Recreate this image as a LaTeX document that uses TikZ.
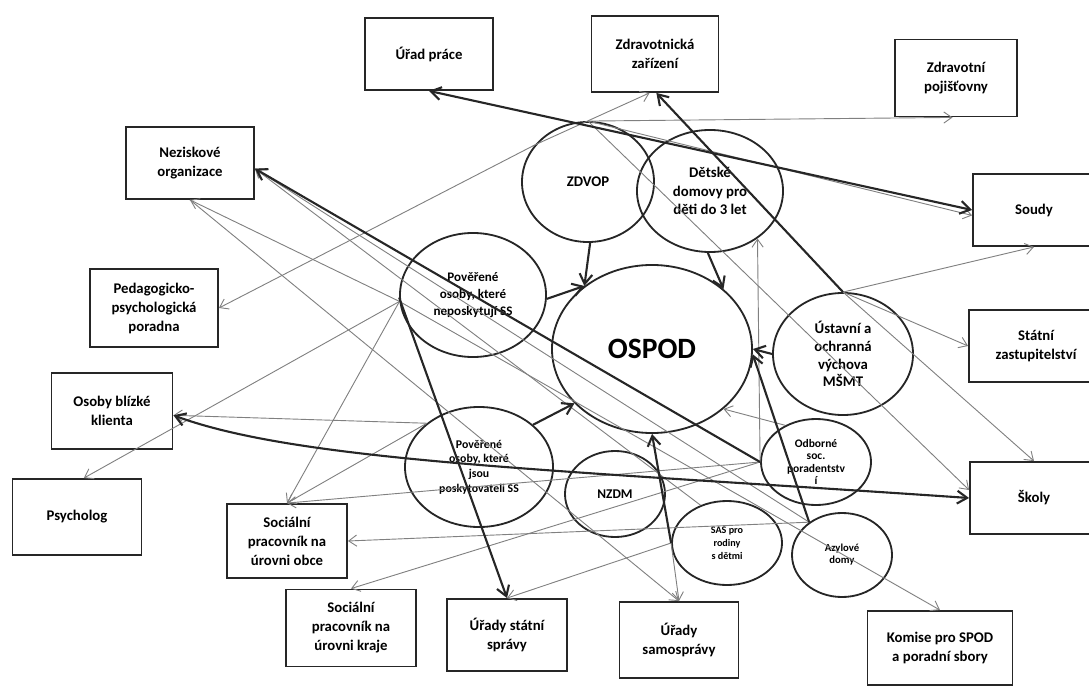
\documentclass[tikz,border=0pt]{standalone}
\usepackage{fontspec}
\setmainfont{Carlito}
\usetikzlibrary{shapes.geometric, arrows.meta}

\newcommand{\boxfont}{\fontsize{10.5}{13.5}\selectfont\bfseries}

\begin{document}
\begin{tikzpicture}[x=0.025cm, y=-0.025cm,
	box/.style={rectangle, draw=black!85, line width=1.3pt, align=center, inner sep=1pt, font=\boxfont},
	oval/.style={ellipse, draw=black!85, line width=1.3pt, align=center, inner sep=0pt, font=\boxfont},
	link/.style={draw=black!85, line width=1.5pt, -{Straight Barb[length=2.5mm, width=3.2mm]}},
	linkboth/.style={draw=black!85, line width=1.5pt, {Straight Barb[length=2.5mm, width=3.2mm]}-{Straight Barb[length=2.5mm, width=3.2mm]}},
	rel/.style={draw=black!50, line width=0.65pt, -{Straight Barb[length=2mm, width=2.8mm]}}]

	\useasboundingbox (0, 0) rectangle (1089, 688);
	\clip (0, 0) rectangle (1089, 688);

	% boxes round the edge
	\node[box, minimum width=3.2cm, minimum height=1.8cm] (urad) at (429, 54) {Úřad práce};
	\node[box, minimum width=3.175cm, minimum height=1.9cm] (zdrav) at (655, 54) {Zdravotnická\\zařízení};
	\node[box, minimum width=3.05cm, minimum height=1.925cm] (pojist) at (956, 78) {Zdravotní\\pojišťovny};
	\node[box, minimum width=3.2cm, minimum height=1.8cm] (nezisk) at (190, 163) {Neziskové\\organizace};
	\node[box, minimum width=3.05cm, minimum height=1.8cm] (soudy) at (1034, 210) {Soudy};
	\node[box, minimum width=3.2cm, minimum height=1.95cm] (pedag) at (154, 308) {Pedagogicko-\\psychologická\\poradna};
	\node[box, minimum width=3.35cm, minimum height=1.8cm] (statni) at (1036, 346) {Státní\\zastupitelství};
	\node[box, minimum width=3.025cm, minimum height=1.9cm] (osoby) at (112, 411) {Osoby blízké\\klienta};
	\node[box, minimum width=3.225cm, minimum height=1.9cm] (psych) at (77, 517) {Psycholog};
	\node[box, minimum width=3.2cm, minimum height=1.8cm] (skoly) at (1034, 498) {Školy};
	\node[box, minimum width=3.0cm, minimum height=1.85cm] (socobce) at (287, 541) {Sociální\\pracovník na\\úrovni obce};
	\node[box, minimum width=3.25cm, minimum height=1.925cm] (sockraj) at (351, 628) {Sociální\\pracovník na\\úrovni kraje};
	\node[box, minimum width=3.0cm, minimum height=1.8cm] (uradystat) at (507, 635) {Úřady státní\\správy};
	\node[box, minimum width=2.975cm, minimum height=1.9cm] (uradysam) at (679, 640) {Úřady\\samosprávy};
	\node[box, minimum width=3.625cm, minimum height=1.85cm] (komise) at (940, 648) {Komise pro SPOD\\a poradní sbory};

	% ellipses in the middle
	\node[oval, minimum width=5cm, minimum height=4.2cm, font={\fontsize{21}{25}\selectfont\bfseries}] (ospod) at (652, 349) {OSPOD};
	\node[oval, minimum width=3.3cm, minimum height=3cm] (zdvop) at (588, 182) {ZDVOP};
	\node[oval, minimum width=3.65cm, minimum height=3.05cm, font={\fontsize{10.5}{13}\selectfont\bfseries}] (detske) at (710, 191) {Dětské\\domovy pro\\děti do 3 let};
	\node[oval, minimum width=3.65cm, minimum height=3.1cm, font={\fontsize{9.3}{12}\selectfont\bfseries}] (pov1) at (473, 295) {Pověřené\\osoby, které\\neposkytují SS};
	\node[oval, minimum width=3.7cm, minimum height=3cm, font={\fontsize{8.4}{10.5}\selectfont\bfseries}] (pov2) at (479, 467) {Pověřené\\osoby, které\\jsou\\poskytovateli SS};
	\node[oval, minimum width=2.5cm, minimum height=2.15cm, font={\fontsize{9.5}{11}\selectfont\bfseries}] (nzdm) at (615, 494) {NZDM};
	\node[oval, minimum width=2.75cm, minimum height=2.1cm, font={\fontsize{7.2}{9.3}\selectfont\bfseries}] (sas) at (727, 543) {SAS pro\\rodiny\\s dětmi};
	\node[oval, minimum width=2.75cm, minimum height=2.15cm, font={\fontsize{8.2}{8.8}\selectfont\bfseries}] (odborne) at (816, 462) {Odborné\\soc.\\poradentstv\\í};
	\node[oval, minimum width=2.5cm, minimum height=2.1cm, font={\fontsize{7.6}{8.6}\selectfont\bfseries}] (azyl) at (842, 555) {Azylové\\domy};
	\node[oval, minimum width=3.5cm, minimum height=3.05cm, font={\fontsize{10.5}{12.6}\selectfont\bfseries}] (ustav) at (843, 354) {Ústavní a\\ochranná\\výchova\\MŠMT};

	% thin grey links
	\draw[rel] (zdvop.145) -- (pedag.east);
	\draw[rel] (zdvop.145) -- (zdrav.262);
	\draw[rel] (zdvop.north) -- (pojist.265);
	\draw[rel] (zdvop.north) -- (soudy.185);
	\draw[rel] (zdvop.north) -- (skoly.173);
	\draw[rel] (pov1.185) -- (nezisk.south);
	\draw[rel] (pov1.185) -- (psych.80);
	\draw[rel] (pov1.185) -- (socobce.north);
	\draw[rel] (pov1.185) -- (komise.north);
	\draw[rel] (pov2.140) -- (osoby.-4);
	\draw[rel] (pov2.140) -- (socobce.north);
	\draw[rel] (nezisk.south) -- (uradysam.north);
	\draw[rel] (ustav.north) -- (soudy.south);
	\draw[rel] (ustav.north) -- (statni.west);
	\draw[rel] (ustav.north) -- (skoly.north);
	\draw[rel] (odborne.west) -- (detske.-45);
	\draw[rel] (odborne.130) -- (ospod.-40);
	\draw[rel] (odborne.west) -- (sockraj.north);
	\draw[rel] (odborne.west) -- (socobce.north);
	\draw[rel] (azyl.135) -- (socobce.east);
	\draw[rel] (azyl.135) -- (nezisk.-5);
	\draw[rel] (sas.125) -- (nezisk.-5);
	\draw[rel] (sas.west) -- (uradysam.north);
	\draw[rel] (sas.west) -- (uradystat.north);

	% thick links
	\draw[link] (zdvop.272) -- (ospod.137);
	\draw[link] (detske.268) -- (ospod.40);
	\draw[link] (pov1.-3) -- (ospod.137);
	\draw[link] (pov2.38) -- (ospod.215);
	\draw[link] (sas.west) -- (ospod.south);
	\draw[link] (ustav.west) -- (ospod.east);
	\draw[link] (azyl.135) -- (ospod.-3);
	\draw[linkboth] (urad.south) -- (soudy.west);
	\draw[link] (ustav.north) -- (zdrav.272);
	\draw[link] (odborne.west) -- (nezisk.-5);
	\draw[link] (pov1.182) -- (uradystat.north);
	\draw[linkboth] (osoby.-4) .. controls (300, 462) and (560, 470) .. (skoly.west);
\end{tikzpicture}
\end{document}
